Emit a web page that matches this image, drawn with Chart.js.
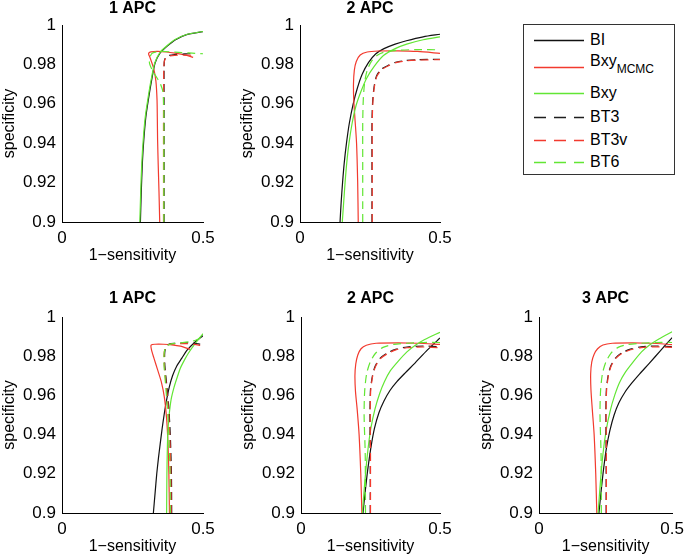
<!DOCTYPE html>
<html>
<head>
<meta charset="utf-8">
<script src="https://cdn.jsdelivr.net/npm/chart.js@4.4.1/dist/chart.umd.min.js"></script>
<style>
  body { margin: 0; background: #fff; }
  #wrap { position: relative; width: 690px; height: 559px; font-family: "Liberation Sans", Arial, sans-serif; }
  #wrap canvas { position: absolute; }
  #legend { position: absolute; left: 523px; top: 24px; width: 150px; height: 149px; border: 1px solid #333; background: #fff; }
  #legend svg { position: absolute; left: 0; top: 0; }
  #legend .lab { position: absolute; left: 66px; font-size: 16px; line-height: 18px; color: #000; white-space: nowrap; }
  #legend .sub { font-size: 12px; position: relative; top: 7px; }
</style>
</head>
<body>
<div id="wrap">
  <canvas id="c1" width="230" height="268" style="left:0;top:0"></canvas>
  <canvas id="c2" width="230" height="268" style="left:238px;top:0"></canvas>
  <canvas id="c4" width="230" height="269" style="left:0;top:290px"></canvas>
  <canvas id="c5" width="230" height="269" style="left:239px;top:290px"></canvas>
  <canvas id="c6" width="213" height="269" style="left:477px;top:290px"></canvas>
  <div id="legend"></div>
</div>
<script>
const xTicks = [0, 0.5]
const yTicks = [0.9, 0.92, 0.94, 0.96, 0.98, 1]
const panelTitles = ['1 APC', '2 APC', '1 APC', '2 APC', '3 APC']
const seriesNames = ['BI', 'Bxy', 'Bxy', 'BT3', 'BT3v', 'BT6']
const seriesSubs = ['', 'MCMC', '', '', '', '']

// top row, 1 APC  (points are [1-sensitivity, specificity])
const t1BI = [[0.278,0.9],[0.281,0.915],[0.285,0.93],[0.29,0.9416],[0.297,0.953],[0.306,0.9619],[0.318,0.9721],[0.33,0.9807],[0.348,0.9858],[0.371,0.989],[0.401,0.9924],[0.442,0.9951],[0.5,0.9966]]
const t1Mcmc = [[0.3465,0.9],[0.344,0.915],[0.341,0.93],[0.339,0.9416],[0.338,0.953],[0.337,0.962],[0.333,0.9715],[0.325,0.978],[0.312,0.9835],[0.307,0.9855],[0.315,0.9864],[0.34,0.9866],[0.37,0.9863],[0.4,0.9857],[0.435,0.9848],[0.465,0.9836]]
const t1Bxy = [[0.276,0.9],[0.279,0.915],[0.283,0.93],[0.288,0.9416],[0.295,0.953],[0.304,0.9619],[0.316,0.9721],[0.329,0.9807],[0.347,0.986],[0.371,0.9893],[0.401,0.9926],[0.442,0.9952],[0.5,0.9967]]
const t1BT3 = [[0.362,0.9],[0.362,0.93],[0.362,0.96],[0.362,0.978],[0.364,0.9825],[0.375,0.9843],[0.4,0.985],[0.435,0.9853],[0.466,0.9855]]
const t1BT3v = [[0.36,0.9],[0.36,0.93],[0.36,0.96],[0.361,0.978],[0.364,0.9822],[0.376,0.984],[0.4,0.9846],[0.435,0.9847],[0.466,0.9846]]
const t1BT6 = [[0.361,0.9],[0.361,0.93],[0.361,0.955],[0.358,0.966],[0.348,0.9705],[0.337,0.9731],[0.322,0.9765],[0.31,0.981],[0.318,0.9855],[0.35,0.9866],[0.4,0.9862],[0.45,0.9858],[0.5,0.9854]]

// top row, 2 APC
const t2BI = [[0.143,0.9],[0.147,0.91],[0.152,0.92],[0.158,0.93],[0.166,0.94],[0.176,0.95],[0.19,0.96],[0.205,0.968],[0.222,0.975],[0.245,0.981],[0.27,0.9853],[0.3,0.988],[0.34,0.9903],[0.38,0.992],[0.44,0.994],[0.5,0.9953]]
const t2Mcmc = [[0.208,0.9],[0.206,0.92],[0.202,0.94],[0.196,0.953],[0.192,0.962],[0.191,0.97],[0.194,0.977],[0.201,0.9815],[0.215,0.9848],[0.24,0.9863],[0.28,0.9868],[0.35,0.9869],[0.42,0.9866],[0.5,0.9856]]
const t2Bxy = [[0.151,0.9],[0.156,0.91],[0.161,0.92],[0.167,0.93],[0.175,0.94],[0.186,0.95],[0.2,0.959],[0.217,0.966],[0.238,0.973],[0.265,0.979],[0.298,0.9845],[0.34,0.988],[0.381,0.9903],[0.44,0.9925],[0.5,0.994]]
const t2BT3 = [[0.257,0.9],[0.257,0.93],[0.257,0.95],[0.259,0.96],[0.264,0.968],[0.273,0.974],[0.29,0.9775],[0.315,0.9795],[0.345,0.9812],[0.38,0.982],[0.42,0.9824],[0.5,0.9826]]
const t2BT3v = [[0.258,0.9],[0.258,0.93],[0.258,0.95],[0.26,0.96],[0.265,0.968],[0.274,0.9738],[0.291,0.9772],[0.316,0.9793],[0.346,0.981],[0.38,0.9818],[0.42,0.9822],[0.5,0.9824]]
const t2BT6 = [[0.224,0.9],[0.224,0.93],[0.224,0.95],[0.226,0.962],[0.231,0.971],[0.24,0.977],[0.255,0.9815],[0.275,0.9845],[0.3,0.9862],[0.35,0.9872],[0.42,0.9875],[0.5,0.9874]]

// bottom row, 1 APC
const b1BI = [[0.324,0.9],[0.33,0.91],[0.336,0.92],[0.342,0.928],[0.348,0.935],[0.355,0.943],[0.362,0.95],[0.37,0.957],[0.38,0.964],[0.392,0.97],[0.407,0.975],[0.425,0.979],[0.442,0.9828],[0.47,0.987],[0.5,0.9905]]
const b1Mcmc = [[0.381,0.9],[0.379,0.92],[0.376,0.935],[0.371,0.948],[0.363,0.959],[0.352,0.967],[0.338,0.9735],[0.326,0.979],[0.317,0.9835],[0.316,0.9857],[0.33,0.9861],[0.36,0.9861],[0.39,0.9858],[0.42,0.9851],[0.454,0.9835]]
const b1Bxy = [[0.371,0.9],[0.372,0.92],[0.375,0.94],[0.38,0.95],[0.387,0.958],[0.397,0.964],[0.408,0.969],[0.42,0.974],[0.434,0.978],[0.448,0.9815],[0.47,0.986],[0.5,0.9915]]
const b1BT3 = [[0.389,0.9],[0.388,0.92],[0.384,0.94],[0.378,0.955],[0.371,0.966],[0.365,0.975],[0.364,0.981],[0.368,0.9845],[0.38,0.9862],[0.4,0.9866],[0.44,0.9868],[0.47,0.9866],[0.49,0.9862]]
const b1BT3v = [[0.387,0.9],[0.386,0.92],[0.382,0.94],[0.376,0.955],[0.369,0.966],[0.363,0.975],[0.362,0.981],[0.366,0.9843],[0.378,0.986],[0.4,0.9863],[0.44,0.9864],[0.47,0.986],[0.49,0.9855]]
const b1BT6 = [[0.384,0.9],[0.383,0.92],[0.379,0.94],[0.373,0.955],[0.367,0.966],[0.362,0.975],[0.362,0.981],[0.368,0.9848],[0.385,0.9862],[0.42,0.9868],[0.46,0.9876],[0.48,0.9885],[0.5,0.9905]]

// bottom row, 2 APC
const b2BI = [[0.223,0.9],[0.231,0.911],[0.24,0.922],[0.251,0.933],[0.264,0.943],[0.28,0.951],[0.298,0.957],[0.32,0.9625],[0.345,0.967],[0.375,0.9715],[0.41,0.9765],[0.455,0.9832],[0.5,0.9893]]
const b2Mcmc = [[0.219,0.9],[0.215,0.92],[0.209,0.94],[0.202,0.953],[0.196,0.962],[0.194,0.97],[0.197,0.976],[0.204,0.9805],[0.216,0.9838],[0.235,0.9856],[0.27,0.9866],[0.35,0.9868],[0.42,0.9866],[0.5,0.986]]
const b2Bxy = [[0.221,0.9],[0.229,0.915],[0.239,0.93],[0.251,0.943],[0.266,0.953],[0.283,0.961],[0.3,0.967],[0.321,0.9725],[0.35,0.9775],[0.381,0.9822],[0.41,0.9855],[0.445,0.9885],[0.5,0.9922]]
const b2BT3 = [[0.249,0.9],[0.249,0.93],[0.248,0.952],[0.25,0.963],[0.257,0.97],[0.267,0.975],[0.285,0.979],[0.309,0.9815],[0.34,0.9835],[0.381,0.9847],[0.44,0.9852],[0.5,0.9848]]
const b2BT3v = [[0.25,0.9],[0.25,0.93],[0.249,0.952],[0.251,0.963],[0.258,0.97],[0.268,0.9748],[0.286,0.9788],[0.31,0.9812],[0.341,0.9832],[0.381,0.9843],[0.44,0.9847],[0.5,0.9843]]
const b2BT6 = [[0.232,0.9],[0.231,0.93],[0.227,0.95],[0.229,0.962],[0.236,0.971],[0.249,0.977],[0.268,0.9815],[0.295,0.9845],[0.333,0.986],[0.381,0.9866],[0.44,0.987],[0.5,0.987]]

// bottom row, 3 APC
const b3BI = [[0.225,0.9],[0.233,0.911],[0.242,0.922],[0.253,0.933],[0.266,0.942],[0.282,0.95],[0.3,0.9562],[0.322,0.9615],[0.348,0.9662],[0.378,0.971],[0.413,0.9762],[0.457,0.983],[0.5,0.9895]]
const b3Mcmc = [[0.217,0.9],[0.213,0.92],[0.207,0.94],[0.2,0.953],[0.195,0.963],[0.194,0.971],[0.198,0.977],[0.207,0.981],[0.22,0.9838],[0.24,0.9857],[0.275,0.9866],[0.35,0.9868],[0.42,0.9866],[0.5,0.9859]]
const b3Bxy = [[0.222,0.9],[0.23,0.915],[0.24,0.93],[0.252,0.942],[0.267,0.952],[0.284,0.96],[0.302,0.9665],[0.325,0.972],[0.353,0.977],[0.385,0.9822],[0.415,0.9857],[0.45,0.9888],[0.5,0.9925]]
const b3BT3 = [[0.252,0.9],[0.252,0.93],[0.251,0.952],[0.253,0.963],[0.26,0.9705],[0.27,0.9752],[0.288,0.9792],[0.312,0.9818],[0.343,0.9836],[0.383,0.9848],[0.44,0.9852],[0.5,0.9849]]
const b3BT3v = [[0.253,0.9],[0.253,0.93],[0.252,0.952],[0.254,0.963],[0.261,0.9703],[0.271,0.975],[0.289,0.979],[0.313,0.9815],[0.344,0.9833],[0.383,0.9844],[0.44,0.9848],[0.5,0.9845]]
const b3BT6 = [[0.234,0.9],[0.233,0.93],[0.229,0.95],[0.231,0.962],[0.238,0.971],[0.251,0.977],[0.27,0.9815],[0.297,0.9845],[0.335,0.986],[0.383,0.9866],[0.44,0.987],[0.5,0.987]]

const lineColors = ['#111111', '#f23a2e', '#62e634', '#1e1e1e', '#f23a2e', '#62e634']
const lineDashes = [[], [], [], [8, 5], [8, 5], [8, 5]]

Chart.defaults.font.family = '"Liberation Sans", Arial, sans-serif'
Chart.defaults.font.size = 16
Chart.defaults.color = '#000'

// title centred over the plot area, like the original figure
const panelTitlePlugin = {
  id: 'panelTitle',
  afterDraw(chart, args, opts) {
    const { ctx, chartArea } = chart
    ctx.save()
    ctx.font = 'bold 16px "Liberation Sans", Arial, sans-serif'
    ctx.fillStyle = '#000'
    ctx.textAlign = 'center'
    ctx.textBaseline = 'middle'
    ctx.fillText(opts.text, (chartArea.left + chartArea.right) / 2, opts.y)
    ctx.restore()
  }
}

const panels = [
  { id: 'c1', title: panelTitles[0], series: [t1BI, t1Mcmc, t1Bxy, t1BT3, t1BT3v, t1BT6], right: 27, top: 25 },
  { id: 'c2', title: panelTitles[1], series: [t2BI, t2Mcmc, t2Bxy, t2BT3, t2BT3v, t2BT6], right: 28, top: 25 },
  { id: 'c4', title: panelTitles[2], series: [b1BI, b1Mcmc, b1Bxy, b1BT3, b1BT3v, b1BT6], right: 27, top: 27 },
  { id: 'c5', title: panelTitles[3], series: [b2BI, b2Mcmc, b2Bxy, b2BT3, b2BT3v, b2BT6], right: 29, top: 27 },
  { id: 'c6', title: panelTitles[4], series: [b3BI, b3Mcmc, b3Bxy, b3BT3, b3BT3v, b3BT6], right: 12, top: 27 }
]

panels.forEach(p => {
  const ctx = document.getElementById(p.id).getContext('2d')
  new Chart(ctx, {
    type: 'scatter',
    plugins: [panelTitlePlugin],
    data: {
      datasets: p.series.map((pts, i) => ({
        label: seriesNames[i] + seriesSubs[i],
        data: pts.map(([x, y]) => ({ x, y })),
        showLine: true,
        borderColor: lineColors[i],
        backgroundColor: lineColors[i],
        borderWidth: 1.2,
        borderDash: lineDashes[i],
        pointRadius: 0,
        tension: 0.25,
        order: -i
      }))
    },
    options: {
      responsive: false,
      animation: false,
      layout: { padding: { left: 0, right: p.right, top: p.top, bottom: 0 } },
      plugins: {
        legend: { display: false },
        tooltip: { enabled: false },
        title: { display: false },
        panelTitle: { text: p.title, y: 9 }
      },
      scales: {
        x: {
          type: 'linear',
          min: 0,
          max: 0.5,
          afterBuildTicks: s => { s.ticks = xTicks.map(v => ({ value: v })) },
          afterFit: s => { s.height = 46 },
          ticks: { padding: 6, maxRotation: 0, autoSkip: false, font: { size: 17 }, callback: v => String(v) },
          grid: { display: false, drawTicks: false },
          border: { display: true, color: '#000', width: 1 },
          title: { display: true, text: '1\u2212sensitivity', padding: { top: 0, bottom: 3 } }
        },
        y: {
          type: 'linear',
          min: 0.9,
          max: 1,
          afterBuildTicks: s => { s.ticks = yTicks.map(v => ({ value: v })) },
          afterFit: s => { s.width = 62 },
          ticks: { padding: 6, autoSkip: false, font: { size: 17 }, callback: v => String(+v.toFixed(2)) },
          grid: { display: false, drawTicks: false },
          border: { display: true, color: '#000', width: 1 },
          title: { display: true, text: 'specificity', padding: { top: 0, bottom: 0 } }
        }
      }
    }
  })
})

// legend box (top right)
const legendRowY = [15, 42, 68, 92, 115, 137]
const legend = document.getElementById('legend')
let svg = '<svg width="150" height="149">'
seriesNames.forEach((name, i) => {
  const y = legendRowY[i] + 0.5
  const dash = lineDashes[i].length ? ' stroke-dasharray="12,8"' : ''
  svg += `<line x1="10" y1="${y}" x2="60" y2="${y}" stroke="${lineColors[i]}" stroke-width="1.4"${dash}/>`
})
svg += '</svg>'
legend.innerHTML = svg
seriesNames.forEach((name, i) => {
  const el = document.createElement('div')
  el.className = 'lab'
  const cy = seriesSubs[i] ? legendRowY[i] - 6 : legendRowY[i]
  el.style.top = (cy - 9) + 'px'
  el.innerHTML = name + (seriesSubs[i] ? `<span class="sub">${seriesSubs[i]}</span>` : '')
  legend.appendChild(el)
})
</script>
</body>
</html>
